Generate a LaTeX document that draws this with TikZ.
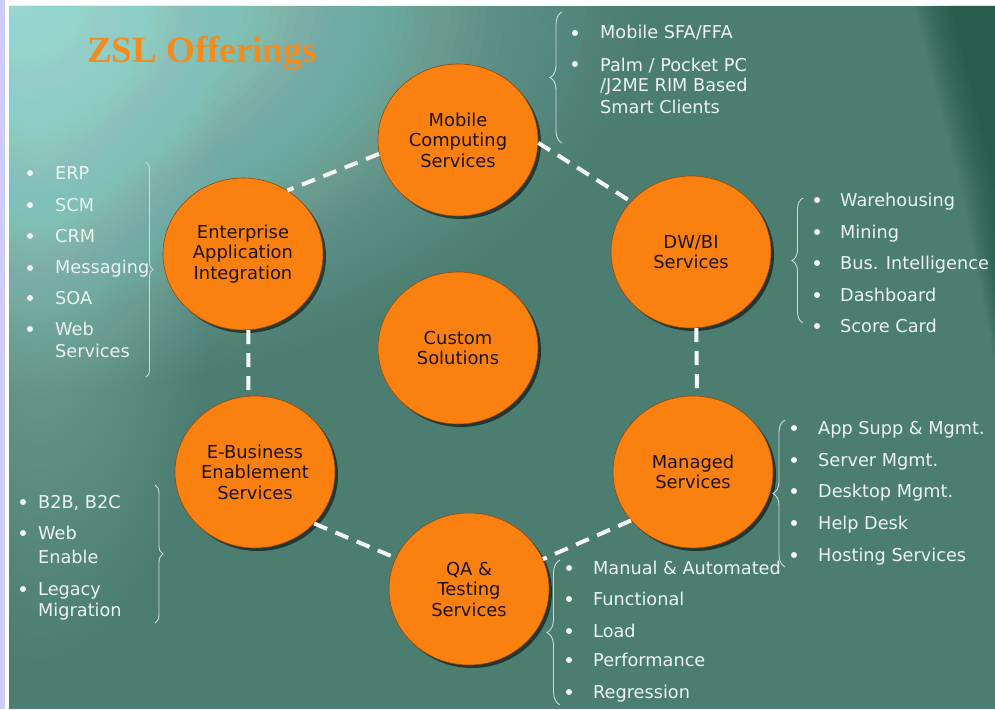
\documentclass[tikz,border=0pt]{standalone}
\usepackage{fontspec}
\setmainfont{DejaVu Sans}
\newfontfamily\titlefont{Liberation Serif}
\usetikzlibrary{shapes.geometric,shadows,decorations.pathreplacing}

\definecolor{lav}{RGB}{204,204,255}
\definecolor{bgbase}{RGB}{75,125,112}
\definecolor{glow}{RGB}{190,255,250}
\definecolor{darkg}{RGB}{16,70,50}
\definecolor{orangeF}{RGB}{250,128,16}
\definecolor{orangeD}{RGB}{150,72,10}
\definecolor{circT}{RGB}{28,18,10}
\definecolor{itemT}{RGB}{236,244,240}
\definecolor{braceC}{RGB}{200,222,216}
\definecolor{titleO}{RGB}{242,140,30}

\begin{document}
\begin{tikzpicture}[x=1pt,y=-1pt,
  offer/.style={ellipse, fill=orangeF, draw=orangeD, line width=0.6pt,
    minimum width=160pt, minimum height=152pt, inner sep=0pt, align=center,
    text=circT, font=\fontsize{17.9}{20.5}\selectfont,
    drop shadow={shadow xshift=3pt, shadow yshift=-3pt, opacity=.55, fill=black}},
  dashline/.style={draw=white!95!bgbase, line width=4pt, dash pattern=on 14pt off 9pt},
  item/.style={anchor=base west, inner sep=0pt, text=itemT,
    font=\fontsize{17.7}{21}\selectfont},
  bulletdot/.style={circle, fill=white!92!bgbase, inner sep=0pt, minimum size=6pt},
  bracket/.style={decorate, draw=braceC, line width=0.9pt},
]
\useasboundingbox (0,0) rectangle (995,709);
\fill[white] (0,0) rectangle (995,709);
\fill[lav] (0,0) rectangle (5,709);

% backdrop: teal field, bright corner glow, light left band, dark streak at top right
\begin{scope}
  \clip (9,6) rectangle (995,709);
  \fill[bgbase] (9,6) rectangle (995,709);
  \foreach \i in {1,...,40}
    \fill[glow, fill opacity=0.012] (40,180) ellipse ({\i*4.5} and {\i*12});
  \foreach \i in {1,...,70}
    \fill[glow, fill opacity={0.012+0.0004*(70-\i)}] (10,0) ellipse ({\i*9} and {\i*5.6});
  \foreach \d in {0,3,...,36}
    \fill[darkg, fill opacity=.055] (915+\d,6) -- (995,6) -- (995,360-3*\d) -- (962+\d,190) -- cycle;
\end{scope}

% title
\node[anchor=base west, inner sep=0pt, text=titleO,
  font=\titlefont\bfseries\fontsize{37}{40}\selectfont] (title) at (87,63) {ZSL Offerings};

% service circles
\node[offer] (mob)  at (458,140) {Mobile\\Computing\\Services};
\node[offer] (eai)  at (243,254) {Enterprise\\Application\\Integration};
\node[offer] (dwbi) at (691,252) {DW/BI\\Services};
\node[offer] (cust) at (458,348) {Custom\\Solutions};
\node[offer] (ebiz) at (255,472) {E-Business\\Enablement\\Services};
\node[offer] (mgd)  at (693,472) {Managed\\Services};
\node[offer] (qa)   at (469,589) {QA \&\\Testing\\Services};

% dashed ring between the outer circles
\draw[dashline] (mob.190) -- (eai.55);
\draw[dashline] (mob.358) -- (dwbi.140);
\draw[dashline] (eai.-86) -- (ebiz.95);
\draw[dashline] (dwbi.-86) -- (mgd.87);
\draw[dashline] (ebiz.-41) -- (qa.157);
\draw[dashline] (mgd.218) -- (qa.22);

% Mobile computing list
\draw[bracket, decoration={brace, amplitude=12pt}] (562,143) -- (562,12);
\node[bulletdot] (mb1) at (575,33) {};
\node[item] (m1) at (600,39) {Mobile SFA/FFA};
\node[bulletdot] (mb2) at (575,64) {};
\node[item] (m2) at (600,71) {Palm / Pocket PC};
\node[item] (m3) at (600,92) {/J2ME RIM Based};
\node[item] (m4) at (600,113) {Smart Clients};

% Enterprise application integration list
\draw[bracket, decoration={brace, amplitude=7pt}] (146,162) -- (146,377);
\node[bulletdot] (eb1) at (30,173) {};
\node[item] (e1) at (55,179) {ERP};
\node[bulletdot] (eb2) at (30,205) {};
\node[item] (e2) at (55,211) {SCM};
\node[bulletdot] (eb3) at (30,236) {};
\node[item] (e3) at (55,242) {CRM};
\node[bulletdot] (eb4) at (30,268) {};
\node[item] (e4) at (55,273) {Messaging};
\node[bulletdot] (eb5) at (30,298) {};
\node[item] (e5) at (55,304) {SOA};
\node[bulletdot] (eb6) at (30,329) {};
\node[item] (e6) at (55,335) {Web};
\node[item] (e7) at (55,357) {Services};

% DW/BI list
\draw[bracket, decoration={brace, amplitude=11pt}] (803,323) -- (803,198);
\node[bulletdot] (db1) at (817,200) {};
\node[item] (d1) at (840,206) {Warehousing};
\node[bulletdot] (db2) at (817,232) {};
\node[item] (d2) at (840,238) {Mining};
\node[bulletdot] (db3) at (817,263) {};
\node[item] (d3) at (840,269) {Bus. Intelligence};
\node[bulletdot] (db4) at (817,295) {};
\node[item] (d4) at (840,301) {Dashboard};
\node[bulletdot] (db5) at (817,326) {};
\node[item] (d5) at (840,332) {Score Card};

% E-Business list
\draw[bracket, decoration={brace, amplitude=8pt}] (155,485) -- (155,623);
\node[bulletdot] (bb1) at (23,502) {};
\node[item] (b1) at (38,508) {B2B, B2C};
\node[bulletdot] (bb2) at (23,533) {};
\node[item] (b2) at (38,539) {Web};
\node[item] (b3) at (38,563) {Enable};
\node[bulletdot] (bb3) at (23,589) {};
\node[item] (b4) at (38,595) {Legacy};
\node[item] (b5) at (38,616) {Migration};

% Managed services list
\draw[bracket, decoration={brace, amplitude=12pt}] (785,567) -- (785,420);
\node[bulletdot] (gb1) at (794,428) {};
\node[item] (g1) at (818,434) {App Supp \& Mgmt.};
\node[bulletdot] (gb2) at (794,460) {};
\node[item] (g2) at (818,466) {Server Mgmt.};
\node[bulletdot] (gb3) at (794,491) {};
\node[item] (g3) at (818,497) {Desktop Mgmt.};
\node[bulletdot] (gb4) at (794,523) {};
\node[item] (g4) at (818,529) {Help Desk};
\node[bulletdot] (gb5) at (794,555) {};
\node[item] (g5) at (818,561) {Hosting Services};

% QA and testing list
\draw[bracket, decoration={brace, amplitude=13pt}] (560,705) -- (560,560);
\node[bulletdot] (qb1) at (569,568) {};
\node[item] (q1) at (593,574) {Manual \& Automated};
\node[bulletdot] (qb2) at (569,599) {};
\node[item] (q2) at (593,605) {Functional};
\node[bulletdot] (qb3) at (569,631) {};
\node[item] (q3) at (593,637) {Load};
\node[bulletdot] (qb4) at (569,660) {};
\node[item] (q4) at (593,666) {Performance};
\node[bulletdot] (qb5) at (569,692) {};
\node[item] (q5) at (593,698) {Regression};
\end{tikzpicture}
\end{document}
